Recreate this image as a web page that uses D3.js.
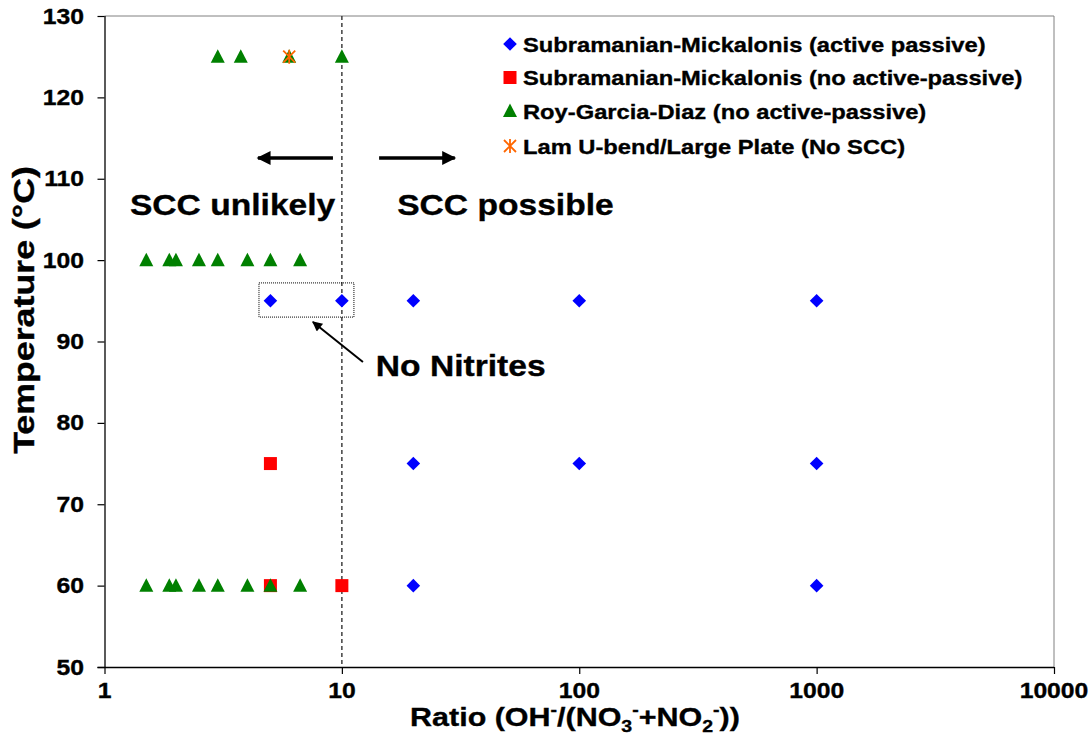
<!DOCTYPE html>
<html>
<head>
<meta charset="utf-8">
<script src="https://cdn.jsdelivr.net/npm/d3@7"></script>
<style>
  html, body { margin: 0; padding: 0; background: #fff; }
  svg { display: block; }
  text { font-family: "Liberation Sans", Arial, sans-serif; font-weight: bold; fill: #000; stroke: #000; stroke-width: 0.35; }
</style>
</head>
<body>
<svg id="chart" width="1092" height="749"></svg>
<script>
// ---------- data ----------
const xTickValues = [1, 10, 100, 1000, 10000];
const yTickValues = [50, 60, 70, 80, 90, 100, 110, 120, 130];

const smActiveX = [5, 10, 20, 100, 1000, 20, 100, 1000, 20, 1000];
const smActiveY = [95, 95, 95, 95, 95, 75, 75, 75, 60, 60];

const smNoAPX = [5, 5, 10];
const smNoAPY = [75, 60, 60];

const rgdX = [1.5, 1.875, 2, 2.5, 3, 4, 5, 6.67,
              1.5, 1.875, 2, 2.5, 3, 4, 5, 6.67,
              3, 3.75, 6, 10];
const rgdY = [100, 100, 100, 100, 100, 100, 100, 100,
              60, 60, 60, 60, 60, 60, 60, 60,
              125, 125, 125, 125];

const lamX = [6];
const lamY = [125];

const seriesNames = [
  "Subramanian-Mickalonis (active passive)",
  "Subramanian-Mickalonis (no active-passive)",
  "Roy-Garcia-Diaz (no active-passive)",
  "Lam U-bend/Large Plate (No SCC)"
];

// ---------- layout ----------
const svg = d3.select("#chart");
const plot = { left: 104.5, right: 1054, top: 16, bottom: 667 };
const SX = 1.12; // horizontal text stretch of the original

const x = d3.scaleLog().domain([1, 10000]).range([plot.left, plot.right]);
const y = d3.scaleLinear().domain([50, 130]).range([plot.bottom, plot.top]);

function stext(parent, str, px, py, size, anchor, sx) {
  const g = parent.append("g").attr("transform", `translate(${px},${py}) scale(${sx || SX},1)`);
  return g.append("text").attr("font-size", size).attr("text-anchor", anchor || "start").text(str);
}

// plot border (top/right gray)
svg.append("path")
  .attr("d", `M${plot.left},${plot.top}H${plot.right}V${plot.bottom}`)
  .attr("fill", "none").attr("stroke", "#808080").attr("stroke-width", 1);

// axes
const xAxis = d3.axisBottom(x).tickValues(xTickValues).tickSize(7).tickFormat("");
const gx = svg.append("g").attr("transform", `translate(0,${plot.bottom})`).call(xAxis);
gx.select(".domain").attr("stroke", "#000").attr("stroke-width", 1.3).attr("d", `M${plot.left - 7},0.5H${plot.right}`);
gx.selectAll(".tick line").attr("stroke", "#000").attr("stroke-width", 1.2);

const yAxis = d3.axisLeft(y).tickValues(yTickValues).tickSize(7).tickFormat("");
const gy = svg.append("g").attr("transform", `translate(${plot.left},0)`).call(yAxis);
gy.select(".domain").attr("stroke", "#000").attr("stroke-width", 1.3).attr("d", `M0.5,${plot.top}V${plot.bottom}`);
gy.selectAll(".tick line").attr("stroke", "#000").attr("stroke-width", 1.2);

// tick labels
xTickValues.forEach(v => stext(svg, String(v), x(v), 698, 21.5, "middle", 1.15));
yTickValues.forEach(v => stext(svg, String(v), 84, y(v) + 7.5, 21.5, "end", 1.15));

// vertical dashed threshold line at ratio 10
svg.append("line")
  .attr("x1", x(10)).attr("x2", x(10)).attr("y1", y(130)).attr("y2", y(50))
  .attr("stroke", "#333").attr("stroke-width", 1.4).attr("stroke-dasharray", "4,3");

// markers
const diamond = "M0,-6.8L6.8,0L0,6.8L-6.8,0Z";
const square = "M-6.5,-6.5H6.5V6.5H-6.5Z";
const triangle = "M0,-7.5L7,6L-7,6Z";
const star = "M-6,-6L6,6M-6,6L6,-6M0,-7L0,7";

function drawSeries(xs, ys, path, fill, stroke) {
  svg.append("g").selectAll("path").data(xs.map((d, i) => [d, ys[i]])).join("path")
    .attr("transform", d => `translate(${x(d[0])},${y(d[1])})`)
    .attr("d", path)
    .attr("fill", fill)
    .attr("stroke", stroke || "none")
    .attr("stroke-width", stroke ? 1.8 : 0);
}
drawSeries(smActiveX, smActiveY, diamond, "#0000FF");
drawSeries(smNoAPX, smNoAPY, square, "#FF0000");
drawSeries(rgdX, rgdY, triangle, "#008000");
drawSeries(lamX, lamY, star, "none", "#FF6600");

// legend
const legendRows = [44, 77.5, 111, 146];
const legendMarks = [
  { d: diamond, fill: "#0000FF" },
  { d: square, fill: "#FF0000" },
  { d: triangle, fill: "#008000" },
  { d: star, fill: "none", stroke: "#FF6600" }
];
seriesNames.forEach((name, i) => {
  const m = legendMarks[i];
  svg.append("path").attr("transform", `translate(510,${legendRows[i]})`)
    .attr("d", m.d).attr("fill", m.fill)
    .attr("stroke", m.stroke || "none").attr("stroke-width", m.stroke ? 1.8 : 0);
  stext(svg, name, 523, legendRows[i] + 7.5, 21, "start", 1.13);
});

// arrow markers
const defs = svg.append("defs");
defs.append("marker").attr("id", "ahead").attr("viewBox", "0 0 10 10")
  .attr("refX", 9).attr("refY", 5).attr("markerWidth", 5).attr("markerHeight", 4)
  .attr("markerUnits", "strokeWidth").attr("orient", "auto")
  .append("path").attr("d", "M0,0L10,5L0,10Z").attr("fill", "#000");
defs.append("marker").attr("id", "ahead2").attr("viewBox", "0 0 10 10")
  .attr("refX", 9).attr("refY", 5).attr("markerWidth", 6).attr("markerHeight", 5)
  .attr("markerUnits", "strokeWidth").attr("orient", "auto")
  .append("path").attr("d", "M0,0L10,5L0,10Z").attr("fill", "#000");

// annotation arrows (data units)
const arrowY = 112.55;
svg.append("line").attr("x1", x(9.17)).attr("y1", y(arrowY)).attr("x2", x(4.43)).attr("y2", y(arrowY))
  .attr("stroke", "#000").attr("stroke-width", 3.5).attr("marker-end", "url(#ahead)");
svg.append("line").attr("x1", x(14.35)).attr("y1", y(arrowY)).attr("x2", x(29.9)).attr("y2", y(arrowY))
  .attr("stroke", "#000").attr("stroke-width", 3.5).attr("marker-end", "url(#ahead)");

stext(svg, "SCC unlikely", x(1.28), y(105.5), 30, "start");
stext(svg, "SCC possible", x(17.1), y(105.5), 30, "start");

// dotted box around "No Nitrites" points
svg.append("rect")
  .attr("x", x(4.475)).attr("y", y(97.2))
  .attr("width", x(11.24) - x(4.475)).attr("height", y(93.0) - y(97.2))
  .attr("fill", "none").attr("stroke", "#000").attr("stroke-width", 1).attr("stroke-dasharray", "1,1");

svg.append("line").attr("x1", x(12.27)).attr("y1", y(87.48)).attr("x2", x(7.55)).attr("y2", y(92.4))
  .attr("stroke", "#000").attr("stroke-width", 2).attr("marker-end", "url(#ahead2)");
stext(svg, "No Nitrites", x(13.9), y(85.76), 30, "start");

// axis titles
const xt = svg.append("g").attr("transform", `translate(575,726) scale(1.15,1)`)
  .append("text").attr("font-size", 26.5).attr("text-anchor", "middle");
xt.append("tspan").text("Ratio (OH");
xt.append("tspan").attr("font-size", 17).attr("dy", -11).text("-");
xt.append("tspan").attr("dy", 11).text("/(NO");
xt.append("tspan").attr("font-size", 17).attr("dy", 6).text("3");
xt.append("tspan").attr("font-size", 17).attr("dy", -17).text("-");
xt.append("tspan").attr("dy", 11).text("+NO");
xt.append("tspan").attr("font-size", 17).attr("dy", 6).text("2");
xt.append("tspan").attr("font-size", 17).attr("dy", -17).text("-");
xt.append("tspan").attr("dy", 11).text("))");

svg.append("g").attr("transform", `translate(34,310) rotate(-90) scale(1.3,1.1)`)
  .append("text").attr("font-size", 27.5).attr("text-anchor", "middle").text("Temperature (°C)");
</script>
</body>
</html>
